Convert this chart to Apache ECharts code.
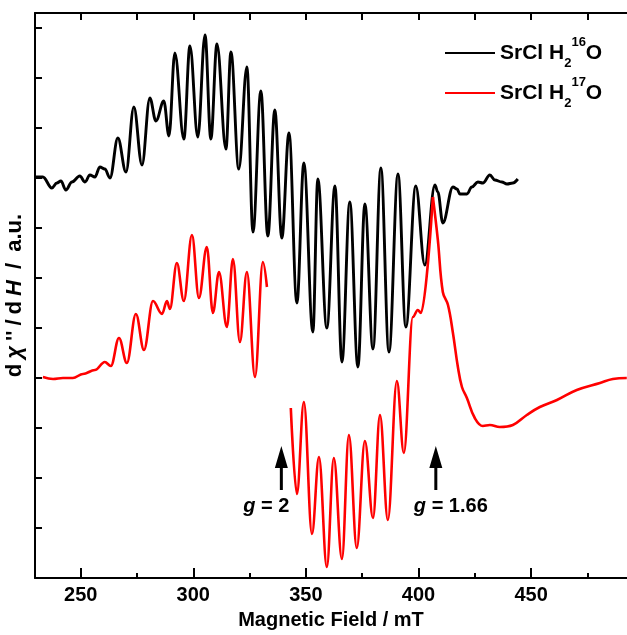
<!DOCTYPE html>
<html>
<head>
<meta charset="utf-8">
<script src="https://cdn.jsdelivr.net/npm/echarts@6/dist/echarts.min.js"></script>
<style>
html,body{margin:0;padding:0;background:#fff;}
#chart{width:627px;height:635px;}
</style>
</head>
<body>
<div id="chart"></div>
<script>
// ---- data (magnetic field in mT, derivative signal in a.u.) ----
const blackField = [229.8, 233.2, 237.2, 239.4, 241.2, 243.4, 246.1, 249.6, 251.9, 254.1, 256.3, 258.5, 260.7, 263.0, 266.5, 270.1, 273.6, 277.2, 280.7, 283.4, 286.9, 289.2, 291.8, 295.8, 298.5, 302.0, 305.2, 307.8, 310.5, 314.5, 316.7, 320.2, 323.8, 326.5, 330.0, 333.1, 336.2, 339.3, 342.5, 346.0, 349.1, 353.1, 355.3, 359.3, 362.9, 366.0, 369.5, 373.1, 376.2, 379.8, 383.3, 386.9, 390.9, 394.4, 398.8, 402.8, 407.3, 408.6, 410.8, 415.3, 417.1, 418.4, 421.5, 423.7, 426.4, 428.6, 431.7, 433.9, 437.0, 439.3, 441.9, 444.1];
const blackValue = [8.02, 8.02, 7.80, 7.90, 7.94, 7.76, 7.92, 8.04, 7.92, 8.06, 8.02, 8.22, 8.18, 8.00, 8.80, 8.12, 9.42, 8.26, 9.60, 9.14, 9.54, 8.84, 10.50, 8.78, 10.64, 8.82, 10.86, 8.78, 10.68, 8.58, 10.52, 8.18, 10.22, 6.92, 9.74, 6.84, 9.36, 6.80, 8.90, 5.50, 8.30, 4.92, 7.98, 5.00, 7.84, 4.32, 7.52, 4.22, 7.48, 4.58, 8.20, 4.52, 8.08, 5.02, 7.84, 6.26, 7.86, 7.72, 7.10, 7.82, 7.78, 7.68, 7.68, 7.82, 7.92, 7.90, 8.06, 7.96, 7.92, 7.88, 7.90, 7.98];

const redField1 = [233.2, 237.7, 242.1, 246.5, 251.0, 256.3, 260.7, 263.4, 267.0, 270.5, 274.5, 278.1, 282.1, 286.1, 288.3, 289.6, 292.7, 295.8, 299.4, 302.5, 306.0, 308.7, 311.4, 314.9, 317.6, 320.7, 323.8, 327.4, 330.9, 332.7];
const redValue1 = [4.02, 3.98, 4.00, 4.00, 4.08, 4.16, 4.32, 4.24, 4.80, 4.30, 5.28, 4.56, 5.54, 5.28, 5.54, 5.38, 6.30, 5.54, 6.86, 5.60, 6.62, 5.30, 6.12, 5.02, 6.38, 4.72, 6.12, 4.02, 6.32, 5.82];

const redField2 = [343.3, 346.0, 349.1, 352.7, 355.8, 359.3, 362.4, 366.0, 369.1, 372.6, 376.2, 379.8, 382.9, 386.4, 390.4, 393.5, 397.5, 399.7, 401.1, 406.4, 408.6, 410.8, 413.1, 415.3, 417.5, 419.3, 421.5, 425.0, 428.6, 431.7, 436.1, 441.9, 448.1, 453.9, 461.5, 470.3, 480.6, 486.3, 492.5];
const redValue2 = [3.40, 1.68, 3.52, 0.88, 2.42, 0.22, 2.40, 0.38, 2.86, 0.60, 2.74, 1.20, 3.26, 1.16, 3.94, 2.50, 5.22, 5.36, 5.30, 7.62, 6.76, 5.72, 5.46, 4.90, 4.22, 3.82, 3.60, 3.20, 3.04, 3.06, 3.02, 3.06, 3.26, 3.42, 3.56, 3.76, 3.90, 3.98, 4.00];
// the hyperfine part up to the main peak vs. the broad tail after it
const redPeakField = 406.4;

const seriesNames = ['SrCl H2 16O', 'SrCl H2 17O'];
const legendRich = {
  'SrCl H2 16O': '{t|SrCl H}{s|2}{p|16}{t|O}',
  'SrCl H2 17O': '{t|SrCl H}{s|2}{p|17}{t|O}'
};

const xMin = 229.7, xMax = 492.6;
const majorTicks = [250, 300, 350, 400, 450];
const minorTicks = [275, 325, 375, 425, 475];
const allTicks = [250, 275, 300, 325, 350, 375, 400, 425, 450, 475];

// g-value markers (field, vertical centre of arrow, label)
const arrowField = [339.1, 407.7];
const arrowValue = [2.2, 2.2];
const arrowLabels = ['2', '1.66'];

// ---- chart ----
const FONT = '"Liberation Sans", Arial, Helvetica, sans-serif';
const zip = (a, b) => a.map((v, i) => [v, b[i]]);
const txt = {fontFamily: FONT, fontWeight: 'bold', color: '#000'};
const red2 = zip(redField2, redValue2);

const lineBase = {type: 'line', xAxisIndex: 0, symbol: 'none', showSymbol: false};

const chart = echarts.init(document.getElementById('chart'), null, {renderer: 'canvas'});
chart.setOption({
  animation: false,
  backgroundColor: '#fff',
  grid: {left: 35, right: 0, top: 13, bottom: 57, containLabel: false, outerBoundsMode: 'none'},
  legend: {
    data: seriesNames,
    orient: 'vertical',
    left: 440,
    top: 31,
    padding: 5,
    itemWidth: 50,
    itemHeight: 2,
    itemGap: 6,
    icon: 'rect',
    formatter: n => legendRich[n],
    textStyle: {
      rich: {
        t: Object.assign({fontSize: 21, lineHeight: 34, verticalAlign: 'middle'}, txt),
        s: Object.assign({fontSize: 13, lineHeight: 13, verticalAlign: 'bottom'}, txt),
        p: Object.assign({fontSize: 13, lineHeight: 18, verticalAlign: 'top'}, txt)
      }
    }
  },
  xAxis: [
    {
      type: 'value', position: 'bottom', min: xMin, max: xMax,
      axisLine: {show: true, onZero: false, lineStyle: {color: '#000', width: 2}},
      axisTick: {show: true, inside: true, length: 10, customValues: majorTicks, lineStyle: {color: '#000', width: 2}},
      axisLabel: Object.assign({show: true, customValues: majorTicks, fontSize: 20, margin: 7}, txt),
      splitLine: {show: false},
      name: 'Magnetic Field / mT', nameLocation: 'middle', nameGap: 32,
      nameTextStyle: Object.assign({fontSize: 20}, txt)
    },
    {
      type: 'value', position: 'bottom', min: xMin, max: xMax,
      axisLine: {show: false, onZero: false},
      axisTick: {show: true, inside: true, length: 5, customValues: minorTicks, lineStyle: {color: '#000', width: 2}},
      axisLabel: {show: false},
      splitLine: {show: false}
    },
    {
      type: 'value', position: 'top', min: xMin, max: xMax,
      axisLine: {show: true, onZero: false, lineStyle: {color: '#000', width: 2}},
      axisTick: {show: true, inside: true, length: 7, customValues: allTicks, lineStyle: {color: '#000', width: 2}},
      axisLabel: {show: false},
      splitLine: {show: false}
    }
  ],
  yAxis: {
    type: 'value', min: 0, max: 11.3, interval: 1,
    axisLine: {show: true, onZero: false, lineStyle: {color: '#000', width: 2}},
    axisTick: {show: true, inside: true, length: 7, lineStyle: {color: '#000', width: 2}},
    axisLabel: {show: false},
    splitLine: {show: false},
    name: "{n|d}{i|χ}{n|''}{n|/}{n|d}{i|H}{n| / }{n|a.u.}",
    nameLocation: 'middle', nameGap: 9,
    nameTextStyle: {
      rich: {
        n: Object.assign({fontSize: 22, padding: [0, 2.5]}, txt),
        i: Object.assign({fontSize: 22, fontStyle: 'italic', padding: [0, 2.5]}, txt)
      }
    }
  },
  series: [
    Object.assign({}, lineBase, {
      name: seriesNames[0], data: zip(blackField, blackValue),
      smooth: 0.37, smoothMonotone: 'x',
      lineStyle: {color: '#000', width: 2.9}, itemStyle: {color: '#000'}, z: 3
    }),
    Object.assign({}, lineBase, {
      name: seriesNames[1], data: zip(redField1, redValue1),
      smooth: 0.37, smoothMonotone: 'x',
      lineStyle: {color: '#ff0000', width: 2.6}, itemStyle: {color: '#ff0000'}, z: 4
    }),
    Object.assign({}, lineBase, {
      name: seriesNames[1], data: red2.filter(p => p[0] <= redPeakField),
      smooth: 0.37, smoothMonotone: 'x',
      lineStyle: {color: '#ff0000', width: 2.6}, itemStyle: {color: '#ff0000'}, z: 4
    }),
    Object.assign({}, lineBase, {
      name: seriesNames[1], data: red2.filter(p => p[0] >= redPeakField),
      smooth: 0.4,
      lineStyle: {color: '#ff0000', width: 2.6}, itemStyle: {color: '#ff0000'}, z: 4
    }),
    {
      type: 'scatter', xAxisIndex: 0, silent: true, z: 5,
      data: arrowField.map((f, i) => ({
        value: [f, arrowValue[i]],
        label: {offset: [i === 0 ? -15 : 15, 0]}
      })),
      symbol: 'path://M6.5,0 L13,22 L8,22 L8,44 L5,44 L5,22 L0,22 Z',
      symbolSize: [13, 44],
      itemStyle: {color: '#000', opacity: 1},
      label: {
        show: true, position: 'bottom', distance: 6,
        formatter: p => '{i|g}{n| = ' + arrowLabels[p.dataIndex] + '}',
        rich: {
          n: Object.assign({fontSize: 20}, txt),
          i: Object.assign({fontSize: 20, fontStyle: 'italic'}, txt)
        }
      }
    }
  ]
});
</script>
</body>
</html>
